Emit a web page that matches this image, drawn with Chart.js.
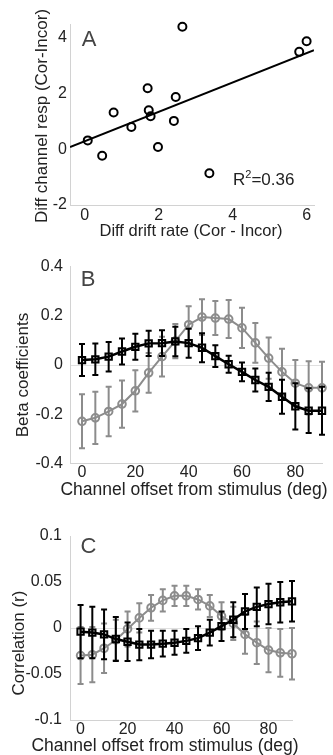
<!DOCTYPE html>
<html>
<head>
<meta charset="utf-8">
<script src="https://cdn.jsdelivr.net/npm/chart.js@4.4.0/dist/chart.umd.min.js"></script>
<style>
    html, body { margin: 0; padding: 0; background: #fff; }
    body { width: 333px; height: 755px; position: relative; overflow: hidden; }
    .panel { position: absolute; left: 0; width: 333px; }
    #panelA { top: 0; height: 250px; }
    #panelB { top: 250px; height: 250px; }
    #panelC { top: 500px; height: 255px; }
</style>
</head>
<body>
<div class="panel" id="panelA"><canvas id="chartA"></canvas></div>
<div class="panel" id="panelB"><canvas id="chartB"></canvas></div>
<div class="panel" id="panelC"><canvas id="chartC"></canvas></div>

<script>
// ===================================
// DADOS
// ===================================

// Painel A - um ponto por sujeito
const driftDiff = [0.08, 0.47, 0.78, 1.26, 1.70, 1.73, 1.78, 1.98, 2.41, 2.46, 2.64, 3.37, 5.80, 6.00];
const respDiff  = [0.32, -0.23, 1.32, 0.80, 2.19, 1.40, 1.19, 0.08, 1.02, 1.88, 4.40, -0.86, 3.50, 3.88];
const fitX = [-0.4, 6.2];
const fitY = [0.08, 3.56];
const rSquared = '0.36';
const ticksAX = [0, 2, 4, 6];
const ticksAY = [-2, 0, 2, 4];

// Paineis B e C - offset do canal (graus)
const offsets = [0, 5, 10, 15, 20, 25, 30, 35, 40, 45, 50, 55, 60, 65, 70, 75, 80, 85, 90];

const betaBlack    = [0.020, 0.023, 0.034, 0.055, 0.074, 0.088, 0.089, 0.096, 0.089, 0.070, 0.036, 0.003, -0.028, -0.061, -0.089, -0.129, -0.168, -0.186, -0.186];
const betaBlackErr = [0.065, 0.064, 0.060, 0.053, 0.053, 0.051, 0.052, 0.060, 0.059, 0.059, 0.044, 0.035, 0.038, 0.047, 0.057, 0.069, 0.094, 0.091, 0.098];
const betaGray     = [-0.229, -0.215, -0.189, -0.159, -0.105, -0.032, 0.034, 0.097, 0.164, 0.195, 0.191, 0.187, 0.151, 0.090, 0.028, -0.028, -0.074, -0.093, -0.093];
const betaGrayErr  = [0.110, 0.106, 0.101, 0.096, 0.084, 0.081, 0.081, 0.070, 0.075, 0.073, 0.069, 0.077, 0.082, 0.081, 0.084, 0.094, 0.094, 0.108, 0.106];

const corrBlack    = [-0.004, -0.005, -0.007, -0.012, -0.015, -0.018, -0.018, -0.017, -0.016, -0.014, -0.011, -0.005, 0.002, 0.009, 0.018, 0.023, 0.026, 0.028, 0.029];
const corrBlackErr = [0.029, 0.028, 0.027, 0.024, 0.021, 0.017, 0.015, 0.014, 0.013, 0.013, 0.013, 0.014, 0.016, 0.019, 0.019, 0.021, 0.022, 0.022, 0.022];
const corrGray     = [-0.030, -0.029, -0.022, -0.013, -0.001, 0.011, 0.022, 0.030, 0.035, 0.035, 0.031, 0.024, 0.013, 0.005, -0.007, -0.016, -0.024, -0.027, -0.028];
const corrGrayErr  = [0.031, 0.030, 0.027, 0.022, 0.019, 0.016, 0.014, 0.012, 0.011, 0.011, 0.011, 0.012, 0.015, 0.018, 0.021, 0.023, 0.024, 0.026, 0.028];

const ticksOffset = [0, 20, 40, 60, 80];
const ticksBeta = [-0.4, -0.2, 0, 0.2, 0.4];
const ticksCorr = [-0.1, -0.05, 0, 0.05, 0.1];

const FONT = '"Liberation Sans", Arial, sans-serif';
const TEXT = '#222';
const GRAY = '#8c8c8c';

// ===================================
// PLUGINS
// ===================================

/**
 * Barras de erro verticais com "caps", desenhadas antes de cada dataset
 */
const errorBars = {
    id: 'errorBars',
    beforeDatasetDraw(chart, args) {
        const ds = chart.data.datasets[args.index];
        if (!ds.errors) return;
        const { ctx, scales: { x, y } } = chart;
        ctx.save();
        ctx.strokeStyle = ds.borderColor;
        ctx.lineWidth = 2;
        ds.data.forEach((pt, i) => {
            const px = x.getPixelForValue(pt.x);
            const top = y.getPixelForValue(pt.y + ds.errors[i]);
            const bot = y.getPixelForValue(pt.y - ds.errors[i]);
            ctx.beginPath();
            ctx.moveTo(px, top); ctx.lineTo(px, bot);
            ctx.moveTo(px - 3, top); ctx.lineTo(px + 3, top);
            ctx.moveTo(px - 3, bot); ctx.lineTo(px + 3, bot);
            ctx.stroke();
        });
        ctx.restore();
    }
};

/**
 * Textos do painel: letra, titulos dos eixos e R²
 */
const panelText = {
    id: 'panelText',
    afterDraw(chart, args, opts) {
        const ctx = chart.ctx;
        (opts.items || []).forEach(item => {
            ctx.save();
            ctx.fillStyle = item.color || TEXT;
            ctx.textBaseline = 'middle';
            ctx.translate(item.x, item.y);
            if (item.rotate) ctx.rotate(-Math.PI / 2);
            if (item.parts) {
                // texto com sobrescrito (R²)
                ctx.textAlign = 'left';
                ctx.textBaseline = 'alphabetic';
                let cx = 0;
                item.parts.forEach(p => {
                    ctx.font = p.font;
                    ctx.fillText(p.text, cx, p.dy || 0);
                    cx += ctx.measureText(p.text).width;
                });
            } else {
                ctx.font = item.font;
                ctx.textAlign = 'center';
                ctx.fillText(item.text, 0, 0);
            }
            ctx.restore();
        });
    }
};

Chart.register(errorBars, panelText);

// ===================================
// HELPERS
// ===================================

function axis(min, max, ticks, size, pad, zeroLine) {
    return {
        type: 'linear',
        min: min,
        max: max,
        afterBuildTicks: scale => {
            scale.ticks = ticks.map(v => ({ value: v }));
        },
        afterFit: scale => {
            if (scale.isHorizontal()) scale.height = size;
            else scale.width = size;
            scale.paddingTop = scale.paddingBottom = 0;
            scale.paddingLeft = scale.paddingRight = 0;
        },
        grid: {
            display: !!zeroLine,
            drawTicks: false,
            color: ctx => (ctx.tick && ctx.tick.value === 0) ? '#e0e0e0' : 'rgba(0,0,0,0)'
        },
        border: { display: true, color: '#d2d2d2', width: 1 },
        ticks: {
            padding: pad,
            color: TEXT,
            autoSkip: false,
            maxRotation: 0,
            font: { family: FONT, size: 16, lineHeight: 1 },
            callback: v => String(v)
        }
    };
}

function series(xs, ys) {
    return xs.map((x, i) => ({ x: x, y: ys[i] }));
}

function lineSet(ys, errs, color, style, radius, width) {
    return {
        data: series(offsets, ys),
        errors: errs,
        borderColor: color,
        borderWidth: width,
        pointStyle: style,
        pointRadius: radius,
        pointBorderWidth: 2,
        pointBorderColor: color,
        pointBackgroundColor: 'rgba(0,0,0,0)',
        clip: false
    };
}

function baseOptions(padding, scales, items) {
    return {
        responsive: true,
        maintainAspectRatio: false,
        animation: false,
        events: [],
        layout: { padding: padding },
        scales: scales,
        plugins: {
            legend: { display: false },
            tooltip: { enabled: false },
            panelText: { items: items }
        }
    };
}

const letterFont = '22px ' + FONT;
const titleFont = '17px ' + FONT;

// ===================================
// PAINEL A
// ===================================
new Chart(document.getElementById('chartA'), {
    type: 'scatter',
    data: {
        datasets: [
            {
                data: series(driftDiff, respDiff),
                pointStyle: 'circle',
                pointRadius: 4,
                pointBorderWidth: 2,
                pointBorderColor: '#000',
                pointBackgroundColor: 'rgba(0,0,0,0)',
                clip: false
            },
            {
                type: 'line',
                data: series(fitX, fitY),
                borderColor: '#000',
                borderWidth: 2,
                pointRadius: 0
            }
        ]
    },
    options: baseOptions(
        { left: 0, top: 24, right: 19, bottom: 0 },
        {
            x: axis(-0.4, 6.2, ticksAX, 45, 3, false),
            y: axis(-2, 4.5, ticksAY, 70, 3, false)
        },
        [
            { text: 'A', x: 89, y: 40, font: letterFont, color: '#444' },
            { text: 'Diff channel resp (Cor-Incor)', x: 42, y: 116, rotate: true, font: titleFont },
            { text: 'Diff drift rate (Cor - Incor)', x: 191, y: 231, font: '16.5px ' + FONT },
            {
                x: 233, y: 185,
                parts: [
                    { text: 'R', font: titleFont },
                    { text: '2', font: '11px ' + FONT, dy: -7 },
                    { text: '=' + rSquared, font: titleFont }
                ]
            }
        ]
    )
});

// ===================================
// PAINEL B
// ===================================
new Chart(document.getElementById('chartB'), {
    type: 'line',
    data: {
        datasets: [
            lineSet(betaBlack, betaBlackErr, '#000', 'rect', 4.5, 2.5),
            lineSet(betaGray, betaGrayErr, GRAY, 'circle', 3.8, 2)
        ]
    },
    options: baseOptions(
        { left: 0, top: 16.7, right: 11, bottom: 0 },
        {
            x: axis(-4.5, 90, ticksOffset, 36.7, 1, false),
            y: axis(-0.4, 0.4, ticksBeta, 70, 7, true)
        },
        [
            { text: 'B', x: 88, y: 30, font: letterFont, color: '#444' },
            { text: 'Beta coefficients', x: 23, y: 125, rotate: true, font: titleFont },
            { text: 'Channel offset from stimulus (deg)', x: 194, y: 240, font: '17.5px ' + FONT }
        ]
    )
});

// ===================================
// PAINEL C
// ===================================
new Chart(document.getElementById('chartC'), {
    type: 'line',
    data: {
        datasets: [
            lineSet(corrBlack, corrBlackErr, '#000', 'rect', 4.5, 2.5),
            lineSet(corrGray, corrGrayErr, GRAY, 'circle', 3.8, 2)
        ]
    },
    options: baseOptions(
        { left: 0, top: 36, right: 41, bottom: 0 },
        {
            x: axis(-4.5, 90, ticksOffset, 35, 2, false),
            y: axis(-0.1, 0.1, ticksCorr, 70, 8, true)
        },
        [
            { text: 'C', x: 88.5, y: 47, font: letterFont, color: '#444' },
            { text: 'Correlation (r)', x: 19, y: 143, rotate: true, font: titleFont },
            { text: 'Channel offset from stimulus (deg)', x: 165, y: 246, font: '17.5px ' + FONT }
        ]
    )
});
</script>
</body>
</html>
